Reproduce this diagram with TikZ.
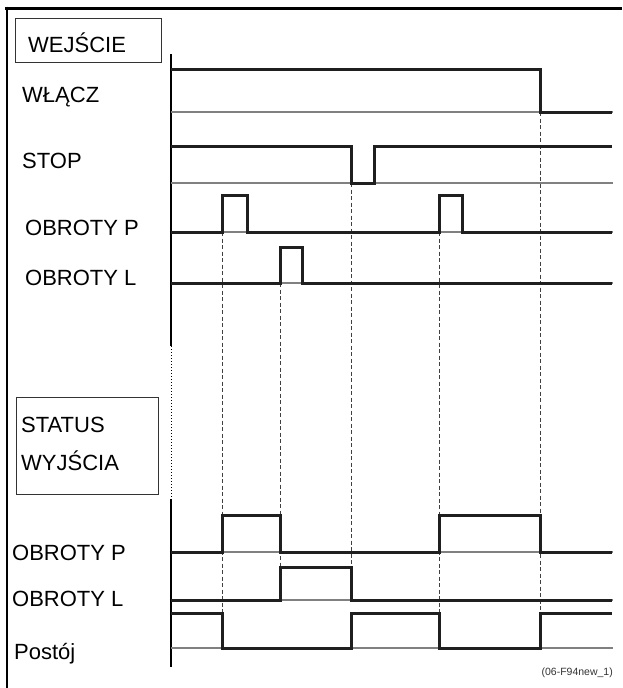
\documentclass[tikz,border=0pt]{standalone}
\usepackage{fontspec}
\setmainfont{Liberation Sans}
\begin{document}
\begin{tikzpicture}[x=1pt,y=-1pt,
  sig/.style={line width=3pt, color=black!88, line join=miter, line cap=butt},
  base/.style={line width=1.1pt, color=black!50},
  guide/.style={line width=0.9pt, color=black!75, dash pattern=on 4pt off 2.5pt},
  lab/.style={font=\fontsize{22}{24}\selectfont, anchor=base west, inner sep=0pt},
  frame/.style={draw, line width=1pt, color=black!80, anchor=north west, inner sep=0pt}]
\fill[white] (0,0) rectangle (623,688);
\useasboundingbox (0,0) rectangle (623,688);
% outer frame
\draw[line width=3pt] (5,8) -- (622,8);
\draw[line width=1.8pt] (7,6.5) -- (7,688);
% time axis
\draw[line width=1.3pt] (171,54) -- (171,346);
\draw[line width=0.8pt, dash pattern=on 0.8pt off 2.2pt] (171,346) -- (171,497);
\draw[line width=1.3pt] (171,499) -- (171,667);
% boxes
\node[frame, minimum width=146pt, minimum height=44pt] (wejbox) at (15,18) {};
\node[frame, minimum width=142pt, minimum height=97pt] (statbox) at (16,397) {};
% labels
\node[lab] (wej) at (28,52) {WEJŚCIE};
\node[lab] (wlacz) at (22,102) {WŁĄCZ};
\node[lab] (stop) at (22,168) {STOP};
\node[lab] (obpin) at (25,235) {OBROTY P};
\node[lab] (oblin) at (25,285) {OBROTY L};
\node[lab] (status) at (21,432) {STATUS};
\node[lab] (wyj) at (21,470) {WYJŚCIA};
\node[lab] (obpout) at (12,560) {OBROTY P};
\node[lab] (oblout) at (12,606) {OBROTY L};
\node[lab] (postoj) at (14,659) {Postój};
\node[font=\fontsize{10.5}{12}\selectfont, anchor=base east, inner sep=0pt, text=black!80] (ref) at (613,675) {(06-F94new\_1)};
% guide lines
\draw[guide] (222,232) -- (222,613);
\draw[guide] (280,283) -- (280,567);
\draw[guide] (351,183) -- (351,567);
\draw[guide] (439,232) -- (439,613);
\draw[guide] (540,112) -- (540,613);
% baselines
\draw[base] (171,112) -- (613,112);
\draw[base] (171,183) -- (613,183);
\draw[base] (171,232) -- (613,232);
\draw[base] (171,283) -- (613,283);
\draw[base] (171,552) -- (613,552);
\draw[base] (171,600) -- (613,600);
\draw[base] (171,648) -- (613,648);
% input signals
\draw[sig] (171,69) -- (540,69) -- (540,112) -- (612,112);
\draw[sig] (171,146) -- (351,146) -- (351,183) -- (374,183) -- (374,146) -- (612,146);
\draw[sig] (171,232) -- (222,232) -- (222,195) -- (247,195) -- (247,232) -- (439,232) -- (439,195) -- (462,195) -- (462,232) -- (612,232);
\draw[sig] (171,283) -- (280,283) -- (280,247) -- (302,247) -- (302,283) -- (612,283);
% output signals
\draw[sig] (171,552) -- (222,552) -- (222,515) -- (280,515) -- (280,552) -- (439,552) -- (439,515) -- (540,515) -- (540,552) -- (612,552);
\draw[sig] (171,600) -- (280,600) -- (280,567) -- (351,567) -- (351,600) -- (612,600);
\draw[sig] (171,613) -- (222,613) -- (222,648) -- (351,648) -- (351,613) -- (439,613) -- (439,648) -- (540,648) -- (540,613) -- (612,613);
\end{tikzpicture}
\end{document}
